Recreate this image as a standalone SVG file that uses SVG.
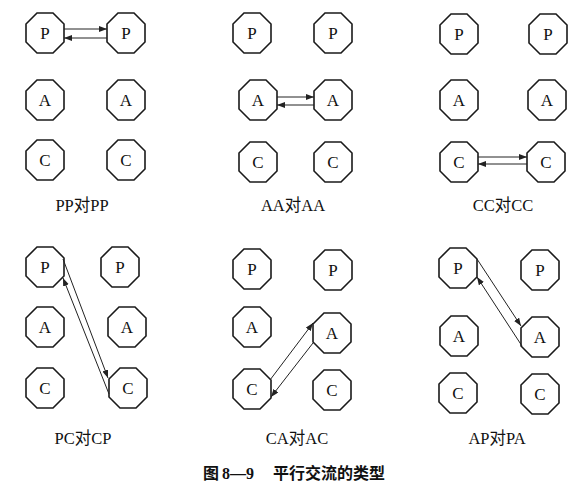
<svg xmlns="http://www.w3.org/2000/svg" xmlns:xlink="http://www.w3.org/1999/xlink" width="579" height="484" viewBox="0 0 579 484">
<style>
.oct{fill:#fff;stroke:#1a1a1a;stroke-width:1.6}
.nt{font-family:"Liberation Serif","Noto Sans CJK SC",serif;font-size:17px;fill:#111;text-anchor:middle}
.lbl{font-family:"Liberation Serif","Noto Sans CJK SC",serif;font-size:16.5px;fill:#111;text-anchor:middle}
.cap{font-family:"Liberation Serif","Noto Sans CJK SC",serif;font-size:16px;font-weight:bold;fill:#111}
.ar{stroke:#222;stroke-width:1;fill:none;marker-end:url(#ah)}
</style>
<defs>
<polygon id="oct" class="oct" points="-8,-20 8,-20 19,-9 19,9 8,20 -8,20 -19,9 -19,-9"/>
<marker id="ah" markerUnits="userSpaceOnUse" markerWidth="10" markerHeight="8" refX="8" refY="3" orient="auto">
<path d="M0,0 L8,3 L0,6 Z" fill="#222"/>
</marker>
</defs>

<!-- Panel 1: PP对PP -->
<g id="p1-PL"><use xlink:href="#oct" x="45" y="33"/><text class="nt" x="45" y="39">P</text></g>
<g id="p1-PR"><use xlink:href="#oct" x="126" y="33"/><text class="nt" x="126" y="39">P</text></g>
<g id="p1-AL"><use xlink:href="#oct" x="45" y="100"/><text class="nt" x="45" y="106">A</text></g>
<g id="p1-AR"><use xlink:href="#oct" x="126" y="100"/><text class="nt" x="126" y="106">A</text></g>
<g id="p1-CL"><use xlink:href="#oct" x="45" y="160"/><text class="nt" x="45" y="166">C</text></g>
<g id="p1-CR"><use xlink:href="#oct" x="126" y="160"/><text class="nt" x="126" y="166">C</text></g>
<text class="lbl" x="82" y="211">PP对PP</text>

<!-- Panel 2: AA对AA -->
<g id="p2-PL"><use xlink:href="#oct" x="252" y="33"/><text class="nt" x="252" y="39">P</text></g>
<g id="p2-PR"><use xlink:href="#oct" x="333" y="33"/><text class="nt" x="333" y="39">P</text></g>
<g id="p2-AL"><use xlink:href="#oct" x="258" y="100"/><text class="nt" x="258" y="106">A</text></g>
<g id="p2-AR"><use xlink:href="#oct" x="333" y="100"/><text class="nt" x="333" y="106">A</text></g>
<g id="p2-CL"><use xlink:href="#oct" x="258" y="162"/><text class="nt" x="258" y="168">C</text></g>
<g id="p2-CR"><use xlink:href="#oct" x="333" y="162"/><text class="nt" x="333" y="168">C</text></g>
<text class="lbl" x="293" y="211">AA对AA</text>

<!-- Panel 3: CC对CC -->
<g id="p3-PL"><use xlink:href="#oct" x="459" y="34"/><text class="nt" x="459" y="40">P</text></g>
<g id="p3-PR"><use xlink:href="#oct" x="548" y="34"/><text class="nt" x="548" y="40">P</text></g>
<g id="p3-AL"><use xlink:href="#oct" x="459" y="100"/><text class="nt" x="459" y="106">A</text></g>
<g id="p3-AR"><use xlink:href="#oct" x="547" y="100"/><text class="nt" x="547" y="106">A</text></g>
<g id="p3-CL"><use xlink:href="#oct" x="459" y="162"/><text class="nt" x="459" y="168">C</text></g>
<g id="p3-CR"><use xlink:href="#oct" x="546" y="162"/><text class="nt" x="546" y="168">C</text></g>
<text class="lbl" x="503" y="211">CC对CC</text>

<!-- Panel 4: PC对CP -->
<g id="p4-PL"><use xlink:href="#oct" x="45" y="267"/><text class="nt" x="45" y="273">P</text></g>
<g id="p4-PR"><use xlink:href="#oct" x="120" y="267"/><text class="nt" x="120" y="273">P</text></g>
<g id="p4-AL"><use xlink:href="#oct" x="45" y="327"/><text class="nt" x="45" y="333">A</text></g>
<g id="p4-AR"><use xlink:href="#oct" x="127" y="327"/><text class="nt" x="127" y="333">A</text></g>
<g id="p4-CL"><use xlink:href="#oct" x="45" y="388"/><text class="nt" x="45" y="394">C</text></g>
<g id="p4-CR"><use xlink:href="#oct" x="128" y="388"/><text class="nt" x="128" y="394">C</text></g>
<text class="lbl" x="83" y="444">PC对CP</text>

<!-- Panel 5: CA对AC -->
<g id="p5-PL"><use xlink:href="#oct" x="252" y="269"/><text class="nt" x="252" y="275">P</text></g>
<g id="p5-PR"><use xlink:href="#oct" x="333" y="270"/><text class="nt" x="333" y="276">P</text></g>
<g id="p5-AL"><use xlink:href="#oct" x="252" y="327"/><text class="nt" x="252" y="333">A</text></g>
<g id="p5-AR"><use xlink:href="#oct" x="332" y="333"/><text class="nt" x="332" y="339">A</text></g>
<g id="p5-CL"><use xlink:href="#oct" x="252" y="389"/><text class="nt" x="252" y="395">C</text></g>
<g id="p5-CR"><use xlink:href="#oct" x="332" y="390"/><text class="nt" x="332" y="396">C</text></g>
<text class="lbl" x="297" y="444">CA对AC</text>

<!-- Panel 6: AP对PA -->
<g id="p6-PL"><use xlink:href="#oct" x="458" y="268"/><text class="nt" x="458" y="274">P</text></g>
<g id="p6-PR"><use xlink:href="#oct" x="540" y="270"/><text class="nt" x="540" y="276">P</text></g>
<g id="p6-AL"><use xlink:href="#oct" x="459" y="336"/><text class="nt" x="459" y="342">A</text></g>
<g id="p6-AR"><use xlink:href="#oct" x="540" y="337"/><text class="nt" x="540" y="343">A</text></g>
<g id="p6-CL"><use xlink:href="#oct" x="458" y="393"/><text class="nt" x="458" y="399">C</text></g>
<g id="p6-CR"><use xlink:href="#oct" x="540" y="394"/><text class="nt" x="540" y="400">C</text></g>
<text class="lbl" x="497" y="444">AP对PA</text>

<!-- Connectors -->
<g id="connectors">
<line class="ar" x1="64" y1="29" x2="107" y2="29"/>
<line class="ar" x1="107" y1="38" x2="64" y2="38"/>
<line class="ar" x1="277" y1="97" x2="314" y2="97"/>
<line class="ar" x1="314" y1="105" x2="277" y2="105"/>
<line class="ar" x1="478" y1="157" x2="527" y2="157"/>
<line class="ar" x1="527" y1="164" x2="478" y2="164"/>
<line class="ar" x1="63" y1="259" x2="108" y2="378"/>
<line class="ar" x1="109" y1="394" x2="63" y2="278"/>
<line class="ar" x1="270" y1="380" x2="313" y2="323"/>
<line class="ar" x1="313" y1="343" x2="271" y2="397"/>
<line class="ar" x1="477" y1="259" x2="521" y2="326"/>
<line class="ar" x1="522" y1="346" x2="477" y2="277"/>
</g>

<text class="cap" y="479"><tspan x="203">图</tspan><tspan x="222">8—9</tspan><tspan x="273">平行交流的类型</tspan></text>
</svg>
